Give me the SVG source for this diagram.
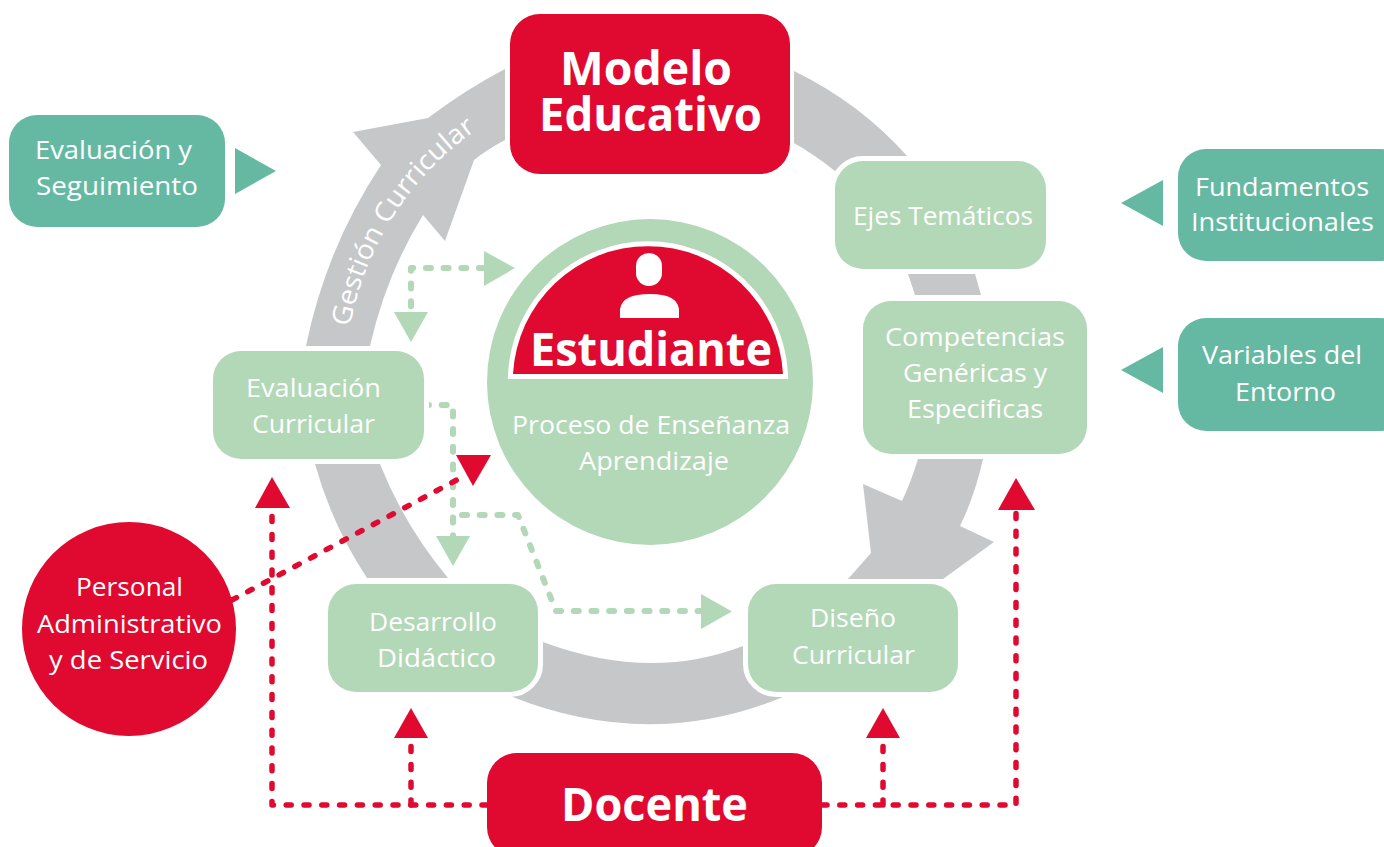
<svg xmlns="http://www.w3.org/2000/svg" width="1384" height="847" viewBox="0 0 1384 847">
<style>
.g{fill:#C6C7C9}
.box{fill:#B2D8B7;stroke:#fff;stroke-width:10;paint-order:stroke}
.teal{fill:#65B9A3}
.red{fill:#E00A30}
.t{font-family:"Open Sans","Noto Sans",sans-serif;font-size:26px;fill:#fff}
.b{font-family:"Open Sans","Noto Sans",sans-serif;font-size:47px;font-weight:700;fill:#fff}
.gd{fill:none;stroke:#B2D8B7;stroke-width:6;stroke-dasharray:5 12.7;stroke-linecap:round;stroke-linejoin:round}
.rd{fill:none;stroke:#E00A30;stroke-width:5.5;stroke-dasharray:5 12.8;stroke-linecap:round;stroke-linejoin:round}
.gt{fill:#B2D8B7}
</style>
<defs>
<path id="arcText" d="M350 327 A306 306 0 0 1 490 121"/>
</defs>
<g id="ring">
<path class="g" d="M505 69 Q465 90 428 118 L353 132 L381 165 Q326 248 306 346 L370 346 Q386 275 423 215 L445 241 L474 160 Q488 149 505 140 Z"/>
<path class="g" d="M794 71 Q860 103 908 157 L908 180 L850 180 L835 171 Q815 155 794 143 Z"/>
<path class="g" d="M908 274 L975 274 L981 295 L915 295 Z"/>
<path class="g" d="M918 459 L983 459 Q975 495 960 526 L994 542 L943 579 L848 579 L871 553 L863 484 L902 501 Q911 482 918 459 Z"/>
<path class="g" d="M315 464 L380 464 Q404 525 448 578 L367 578 Q332 525 315 464 Z"/>
<path class="g" d="M510 696 L530 680 L530 636 L543 642 Q650 682 743 646 L757 640 L757 680 L783 697 Q650 752 510 696 Z"/>
<text class="t" style="font-size:27px"><textPath href="#arcText" textLength="240" lengthAdjust="spacingAndGlyphs">Gestión Curricular</textPath></text>
</g>
<g id="connectors">
<path class="gd" d="M484 268 H411 V312"/>
<polygon class="gt" points="484,251 484,286 515,268"/>
<polygon class="gt" points="394,312 428,312 411,342"/>
<path class="gd" d="M424 405 H453 V536"/>
<path class="gd" d="M462 515 H518 L556 611 H701"/>
<polygon class="gt" points="436,536 470,536 453,566"/>
<polygon class="gt" points="701,594 701,629 732,611.5"/>
<path class="rd" d="M232 600 L466 475"/>
<polygon class="red" points="456,455 491,455 473,486"/>
<path class="rd" d="M487 805 H272 V508"/>
<polygon class="red" points="255,508 290,508 272,477"/>
<path class="rd" d="M411 805 V738"/>
<polygon class="red" points="394,738 428,738 411,708"/>
<path class="rd" d="M822 805 H1016 V510"/>
<polygon class="red" points="998,510 1035,510 1016,478"/>
<path class="rd" d="M883 805 V738"/>
<polygon class="red" points="866,738 900,738 883,708"/>
<polygon class="teal" points="235,148 235,194 276,171"/>
<polygon class="teal" points="1163,180 1163,226 1121,203"/>
<polygon class="teal" points="1163,347 1163,393 1121,370"/>
</g>
<g id="modelo">
<rect class="red" x="510" y="14" width="280" height="160" rx="30"/>
<text class="b" x="560" y="85" textLength="172" lengthAdjust="spacingAndGlyphs">Modelo</text>
<text class="b" x="539" y="131" textLength="223" lengthAdjust="spacingAndGlyphs">Educativo</text>
</g>
<g id="ejes">
<rect class="box" x="835" y="161" width="211" height="108" rx="28"/>
<text class="t" x="853" y="225" textLength="180" lengthAdjust="spacingAndGlyphs">Ejes Temáticos</text>
</g>
<g id="competencias">
<rect class="box" x="863" y="301" width="224" height="153" rx="28"/>
<text class="t" x="885" y="346" textLength="180" lengthAdjust="spacingAndGlyphs">Competencias</text>
<text class="t" x="903" y="382" textLength="144" lengthAdjust="spacingAndGlyphs">Genéricas y</text>
<text class="t" x="907" y="418" textLength="136" lengthAdjust="spacingAndGlyphs">Especificas</text>
</g>
<g id="evaluacion-curricular">
<rect class="box" x="213" y="351" width="211" height="108" rx="28"/>
<text class="t" x="246" y="397" textLength="135" lengthAdjust="spacingAndGlyphs">Evaluación</text>
<text class="t" x="252" y="433" textLength="123" lengthAdjust="spacingAndGlyphs">Curricular</text>
</g>
<g id="desarrollo">
<rect class="box" x="328" y="584" width="210" height="108" rx="28"/>
<text class="t" x="369" y="631" textLength="128" lengthAdjust="spacingAndGlyphs">Desarrollo</text>
<text class="t" x="377" y="667" textLength="119" lengthAdjust="spacingAndGlyphs">Didáctico</text>
</g>
<g id="diseno">
<rect class="box" x="748" y="584" width="210" height="108" rx="28"/>
<text class="t" x="810" y="627" textLength="86" lengthAdjust="spacingAndGlyphs">Diseño</text>
<text class="t" x="792" y="664" textLength="123" lengthAdjust="spacingAndGlyphs">Curricular</text>
</g>
<g id="docente">
<rect class="red" x="487" y="753" width="335" height="104" rx="30"/>
<text class="b" x="561" y="821" textLength="187" lengthAdjust="spacingAndGlyphs">Docente</text>
</g>
<g id="evaluacion-seguimiento">
<rect class="teal" x="9" y="115" width="216" height="112" rx="28"/>
<text class="t" x="35" y="159" textLength="157" lengthAdjust="spacingAndGlyphs">Evaluación y</text>
<text class="t" x="36" y="195" textLength="162" lengthAdjust="spacingAndGlyphs">Seguimiento</text>
</g>
<g id="fundamentos">
<rect class="teal" x="1178" y="149" width="230" height="112" rx="28"/>
<text class="t" x="1195" y="196" textLength="174" lengthAdjust="spacingAndGlyphs">Fundamentos</text>
<text class="t" x="1191" y="231" textLength="183" lengthAdjust="spacingAndGlyphs">Institucionales</text>
</g>
<g id="variables">
<rect class="teal" x="1178" y="318" width="230" height="113" rx="28"/>
<text class="t" x="1202" y="364" textLength="160" lengthAdjust="spacingAndGlyphs">Variables del</text>
<text class="t" x="1235" y="401" textLength="101" lengthAdjust="spacingAndGlyphs">Entorno</text>
</g>
<g id="personal">
<circle class="red" cx="129" cy="629" r="107"/>
<text class="t" x="76" y="596" textLength="107" lengthAdjust="spacingAndGlyphs">Personal</text>
<text class="t" x="37" y="633" textLength="185" lengthAdjust="spacingAndGlyphs">Administrativo</text>
<text class="t" x="49" y="669" textLength="159" lengthAdjust="spacingAndGlyphs">y de Servicio</text>
</g>
<g id="estudiante">
<circle class="gt" cx="650" cy="382" r="163"/>
<path class="red" stroke="#fff" stroke-width="10" style="paint-order:stroke" d="M513 374 A135.2 135.2 0 0 1 783 374 Z"/>
<rect x="636" y="253" width="26" height="33" rx="13" fill="#fff"/>
<path fill="#fff" d="M620 318 V309 Q622 294 650 294 Q677 294 679 309 V318 Z"/>
<text class="b" x="530" y="366" textLength="242" lengthAdjust="spacingAndGlyphs">Estudiante</text>
<text class="t" x="512" y="434" textLength="278" lengthAdjust="spacingAndGlyphs">Proceso de Enseñanza</text>
<text class="t" x="579" y="470" textLength="150" lengthAdjust="spacingAndGlyphs">Aprendizaje</text>
</g>
</svg>
